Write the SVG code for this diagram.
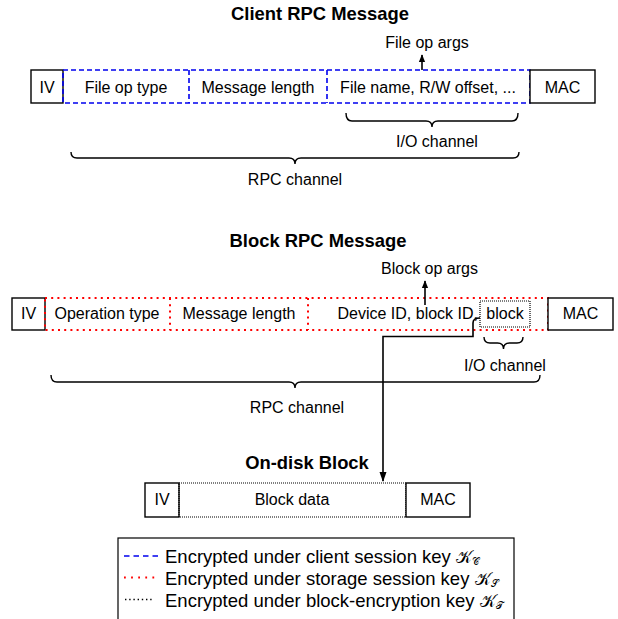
<svg xmlns="http://www.w3.org/2000/svg" width="618" height="619" viewBox="0 0 618 619">
<style>
text{font-family:"Liberation Sans",Arial,sans-serif;fill:#000}
.t{font-size:16px;text-anchor:middle}
.h{font-size:18.4px;font-weight:bold;text-anchor:middle}
.lg{font-size:18.5px}
.box{fill:#fff;stroke:#000;stroke-width:1.4}
.blue{fill:none;stroke:#0000ee;stroke-width:1.6;stroke-dasharray:5 3}
.red{fill:none;stroke:#ff0000;stroke-width:2;stroke-dasharray:2 4.2}
.blk{fill:none;stroke:#000;stroke-width:1.2;stroke-dasharray:1 1}
.brace{fill:none;stroke:#000;stroke-width:1.4}
.conn{fill:none;stroke:#000;stroke-width:1.6}
.math{font-family:"DejaVu Serif","DejaVu Sans","Noto Sans",serif;font-style:normal;font-size:17px}
.sub{font-family:"DejaVu Serif","DejaVu Sans","Noto Sans",serif;font-style:normal;font-size:10px}
</style>
<defs>
<marker id="ah" viewBox="0 0 10 10" refX="9" refY="5" markerWidth="8" markerHeight="8" markerUnits="userSpaceOnUse" orient="auto">
<path d="M0,1 L10,5 L0,9 Z" fill="#000"/>
</marker>
<marker id="ah2" viewBox="0 0 10 10" refX="9" refY="5" markerWidth="10" markerHeight="10" markerUnits="userSpaceOnUse" orient="auto">
<path d="M0,1.5 L10,5 L0,8.5 Z" fill="#000"/>
</marker>
</defs>

<!-- Client RPC Message -->
<g id="client-title"><text class="h" x="320" y="20">Client RPC Message</text></g>
<g id="client-iv"><rect class="box" x="31" y="70" width="32" height="33"/><text class="t" x="47" y="93">IV</text></g>
<g id="client-encrypted"><rect class="blue" x="63" y="70" width="467" height="33"/>
<line class="blue" x1="189" y1="70" x2="189" y2="103"/><line class="blue" x1="327" y1="70" x2="327" y2="103"/></g>
<g id="client-optype"><text class="t" x="126" y="93">File op type</text></g>
<g id="client-msglen"><text class="t" x="258" y="93">Message length</text></g>
<g id="client-args"><text class="t" x="428" y="93">File name, R/W offset, ...</text></g>
<g id="client-mac"><rect class="box" x="530" y="70" width="65" height="33"/><text class="t" x="562.5" y="93">MAC</text></g>
<g id="client-argslabel"><text class="t" x="427" y="48">File op args</text></g>
<g id="client-io"><path class="brace" d="M346,113 Q346,121 352,121 L426,121 Q432,121 432,127 Q432,121 438,121 L512,121 Q518,121 518,113"/><text class="t" x="437" y="147">I/O channel</text></g>
<g id="client-rpc"><path class="brace" d="M71,152 Q71,158 77,158 L289,158 Q295,158 295,164 Q295,158 301,158 L513,158 Q519,158 519,152"/><text class="t" x="295" y="185">RPC channel</text></g>

<!-- Block RPC Message -->
<g id="block-title"><text class="h" x="318" y="247">Block RPC Message</text></g>
<g id="block-iv"><rect class="box" x="12" y="298" width="33" height="32"/><text class="t" x="28.5" y="319">IV</text></g>
<g id="block-encrypted"><rect class="red" x="45" y="298" width="503" height="32"/>
<line class="red" x1="170" y1="298" x2="170" y2="330"/><line class="red" x1="308" y1="298" x2="308" y2="330"/></g>
<g id="block-optype"><text class="t" x="107" y="319">Operation type</text></g>
<g id="block-msglen"><text class="t" x="239" y="319">Message length</text></g>
<g id="block-ids"><text class="t" x="478" y="319" style="text-anchor:end">Device ID, block ID,</text></g>
<g id="block-data"><rect class="blk" x="480" y="301" width="50" height="26" stroke-width="1.5"/><text class="t" x="505" y="319">block</text></g>
<g id="block-mac"><rect class="box" x="548" y="298" width="65" height="32"/><text class="t" x="580.5" y="319">MAC</text></g>
<g id="block-argslabel"><text class="t" x="429.5" y="274">Block op args</text></g>
<g id="block-io"><path class="brace" d="M484,337 Q484,343 490,343 L497.5,343 Q503.5,343 503.5,349 Q503.5,343 509.5,343 L517,343 Q523,343 523,337"/><text class="t" x="505" y="371">I/O channel</text></g>
<g id="block-rpc"><path class="brace" d="M51,375 Q51,382 57,382 L289,382 Q295,382 295,388 Q295,382 301,382 L534,382 Q540,382 540,375"/><text class="t" x="297" y="412.5">RPC channel</text></g>

<!-- On-disk Block -->
<g id="disk-title"><text class="h" x="307" y="469">On-disk Block</text></g>
<g id="disk-iv"><rect class="box" x="145" y="483" width="34" height="34"/><text class="t" x="162" y="505">IV</text></g>
<g id="disk-data"><rect class="blk" x="179" y="483" width="227" height="34"/><text class="t" x="292" y="505">Block data</text></g>
<g id="disk-mac"><rect class="box" x="406" y="483" width="64" height="34"/><text class="t" x="438" y="505">MAC</text></g>

<!-- Connectors -->
<g id="connectors">
<line class="conn" x1="422" y1="70" x2="422" y2="55" marker-end="url(#ah)" stroke-width="1.3"/>
<line class="conn" x1="425" y1="305" x2="425" y2="281" marker-end="url(#ah)" stroke-width="1.3"/>
<path class="conn" d="M480,318 Q473,318 473,323 L473,336.5 L383,336.5 L383,481" marker-end="url(#ah2)"/>
</g>

<!-- Legend -->
<g id="legend">
<rect x="118" y="538" width="396" height="100" fill="#fff" stroke="#000" stroke-width="1.2"/>
<line x1="124" y1="556" x2="159" y2="556" stroke="#0000ee" stroke-width="1.6" stroke-dasharray="5.5 4"/>
<text class="lg" x="165" y="563">Encrypted under client session key <tspan class="math">𝒦</tspan><tspan class="sub" dy="2">𝒞</tspan></text>
<line x1="124" y1="577.5" x2="159" y2="577.5" stroke="#ff0000" stroke-width="1.8" stroke-dasharray="1.8 5.3"/>
<text class="lg" x="165" y="585">Encrypted under storage session key <tspan class="math">𝒦</tspan><tspan class="sub" dy="2">𝒮</tspan></text>
<line x1="125" y1="599.5" x2="153" y2="599.5" stroke="#000" stroke-width="1.4" stroke-dasharray="1.4 2.8"/>
<text class="lg" x="165" y="607">Encrypted under block-encryption key <tspan class="math">𝒦</tspan><tspan class="sub" dy="2">𝒯</tspan></text>
</g>
</svg>
